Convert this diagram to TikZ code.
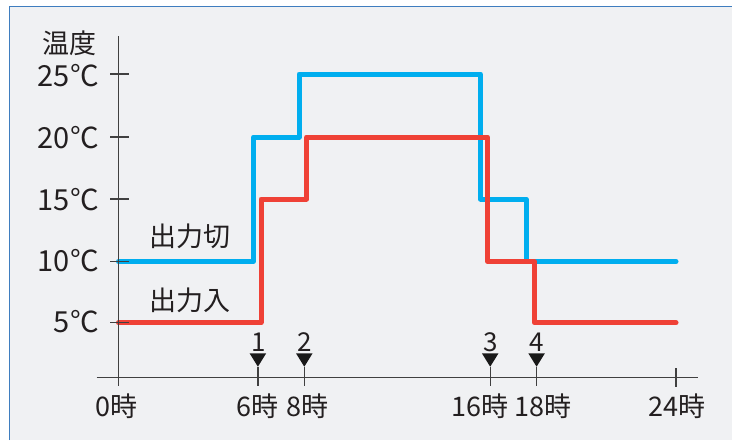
\documentclass[tikz,border=0pt]{standalone}
\usepackage{fontspec}
\setmainfont{Noto Sans CJK JP}
\definecolor{bgc}{HTML}{F0F1F3}
\definecolor{framec}{HTML}{3F7DBF}
\definecolor{offc}{HTML}{00AEEF}
\definecolor{onc}{HTML}{EF4136}
\definecolor{axc}{HTML}{404040}
\definecolor{txc}{HTML}{231F20}
\tikzset{
  curve/.style={line width=5pt, line join=round, line cap=round},
  axis/.style={draw=axc, line width=1.3pt},
  lbl/.style={inner sep=0pt, text=txc, font=\fontsize{29}{29}\selectfont},
  ttlbl/.style={inner sep=0pt, text=txc, font=\fontsize{27}{27}\selectfont},
  hlbl/.style={inner sep=0pt, text=txc, anchor=base, font=\fontsize{27}{27}\selectfont},
  nlbl/.style={inner sep=0pt, text=txc, anchor=base, font=\fontsize{26}{26}\selectfont},
  clbl/.style={inner sep=0pt, text=txc, font=\fontsize{27}{27}\selectfont},
  marker/.style={fill=black!90}
}
\begin{document}
\begin{tikzpicture}[x=1pt,y=-1pt]
\useasboundingbox (0,0) rectangle (732,440);
\fill[white] (0,0) rectangle (732,440);
\fill[bgc] (9.5,6.7) rectangle (732,440);
\draw[framec, line width=1.5pt] (9.5,440) -- (9.5,6.7) -- (732,6.7);
% curves
\draw[curve, offc] (118.5,261.5) -- (253.3,261.5) -- (253.3,137) -- (299,137) -- (299,74) -- (480.3,74) -- (480.3,199) -- (526,199) -- (526,261.5) -- (676,261.5);
\draw[curve, onc] (118.5,322.7) -- (261,322.7) -- (261,199) -- (306.7,199) -- (306.7,137) -- (487.7,137) -- (487.7,261.5) -- (534.3,261.5) -- (534.3,322.7) -- (676,322.7);
% axes
\draw[axis] (118.5,36) -- (118.5,385.7);
\draw[axis] (96.7,377.7) -- (697.7,377.7);
\foreach \yy in {74,137,199,261.5,322.7} \draw[axis] (110,\yy) -- (128.7,\yy);
\draw[axis] (676,368) -- (676,386.7);
\foreach \xx in {257.9,304.3,490.2,536.6} {
  \draw[axis] (\xx,366.7) -- (\xx,386);
  \fill[marker] (\xx-8.3,353.3) -- (\xx+8.3,353.3) -- (\xx,366.7) -- cycle;
}
% labels
\node[ttlbl] (ttl) at (69.7,43.5) {温度};
\node[lbl, anchor=base east] (t25) at (99.5,86.7) {25°C};
\node[lbl, anchor=base east] (t20) at (99.5,148.3) {20°C};
\node[lbl, anchor=base east] (t15) at (99.5,210) {15°C};
\node[lbl, anchor=base east] (t10) at (99.5,271.7) {10°C};
\node[lbl, anchor=base east] (t5) at (99.5,332.7) {5°C};
\node[hlbl] (h0) at (116.7,416.7) {0時};
\node[hlbl] (h6) at (257.8,416.7) {6時};
\node[hlbl] (h8) at (307.5,416.7) {8時};
\node[hlbl] (h16) at (479.8,416.7) {16時};
\node[hlbl] (h18) at (543,416.7) {18時};
\node[hlbl] (h24) at (677.3,416.7) {24時};
\node[nlbl] (n1) at (258.3,351.7) {1};
\node[nlbl] (n2) at (304.5,351.7) {2};
\node[nlbl] (n3) at (490.3,351.7) {3};
\node[nlbl] (n4) at (536.7,351.7) {4};
\node[clbl] (off) at (189.5,236) {出力切};
\node[clbl] (on) at (189.5,300) {出力入};
\end{tikzpicture}
\end{document}
